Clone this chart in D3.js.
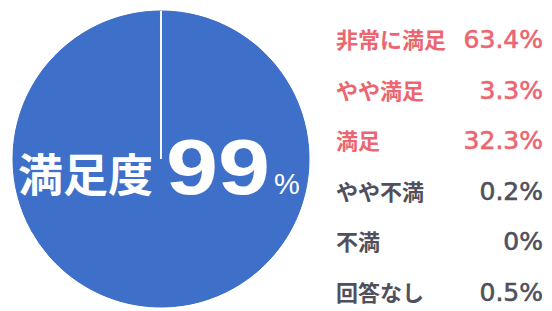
<!DOCTYPE html>
<html>
<head>
<meta charset="utf-8">
<script src="https://cdn.jsdelivr.net/npm/d3@7"></script>
<style>
  body { margin: 0; background: #fff; }
  svg { display: block; }
</style>
</head>
<body>
<div id="chart"></div>
<script>
var width = 552,
  height = 311;

var categories = ["非常に満足", "やや満足", "満足", "やや不満", "不満", "回答なし"];
var values = [63.4, 3.3, 32.3, 0.2, 0, 0.5];
var valueLabels = ["63.4%", "3.3%", "32.3%", "0.2%", "0%", "0.5%"];
var satisfied = [true, true, true, false, false, false];

var blue = "#3e6fc9";

var svg = d3
  .select("#chart")
  .append("svg")
  .attr("width", width)
  .attr("height", height);

// pie
var cx = 161,
  cy = 159,
  r = 148;

var pie = d3.pie().sort(null).value(function (d) {
  return d;
});
var arc = d3.arc().innerRadius(0).outerRadius(r);
var arcs = pie(values);

var g = svg.append("g").attr("transform", "translate(" + cx + "," + cy + ")");
// base disc so slice seams don't show
g.append("circle").attr("r", r).style("fill", blue);
g.selectAll("path")
  .data(arcs)
  .enter()
  .append("path")
  .attr("d", arc)
  .style("fill", blue)
  .style("stroke", blue)
  .style("stroke-width", 1);

// the only visible divider: start of the first slice
var a0 = arcs[0].startAngle;
g.append("line")
  .attr("x1", 0)
  .attr("y1", 0)
  .attr("x2", r * Math.sin(a0))
  .attr("y2", -r * Math.cos(a0))
  .style("stroke", "#f4f7fd")
  .style("stroke-width", 2);

// center label
var total = d3.sum(values.filter(function (d, i) {
  return satisfied[i];
}));
svg
  .append("text")
  .attr("x", 18)
  .attr("y", 192)
  .style("fill", "#fff")
  .style("font-family", "'Noto Sans CJK JP'")
  .style("font-weight", "bold")
  .style("font-size", "45px")
  .text("満足度");
svg
  .append("text")
  .attr("transform", "translate(166,194) scale(1.2,1)")
  .style("fill", "#fff")
  .style("font-family", "'Liberation Sans', Arial")
  .style("font-weight", "bold")
  .style("font-size", "78px")
  .text(Math.round(total));
svg
  .append("text")
  .attr("x", 274)
  .attr("y", 194)
  .style("fill", "#fff")
  .style("font-family", "'Liberation Sans', Arial")
  .style("font-size", "29px")
  .text("%");

// legend
var rowY = d3.scalePoint().domain(d3.range(categories.length)).range([48, 301]);

var rows = svg
  .selectAll(".row")
  .data(categories)
  .enter()
  .append("g")
  .attr("class", "row")
  .attr("transform", function (d, i) {
    return "translate(0," + rowY(i) + ")";
  })
  .style("fill", function (d, i) {
    return satisfied[i] ? "#eb6670" : "#50505c";
  })
  .style("stroke", function (d, i) {
    return satisfied[i] ? "#eb6670" : "#50505c";
  });

rows
  .append("text")
  .attr("x", 336)
  .style("font-family", "'Noto Sans CJK JP'")
  .style("font-weight", "bold")
  .style("font-size", "22px")
  .style("stroke-width", 0)
  .text(function (d) {
    return d;
  });

rows
  .append("text")
  .attr("x", 543)
  .attr("text-anchor", "end")
  .style("font-family", "'DejaVu Sans'")
  .style("font-size", "25px")
  .style("stroke-width", 0.6)
  .text(function (d, i) {
    return valueLabels[i];
  });
</script>
</body>
</html>
